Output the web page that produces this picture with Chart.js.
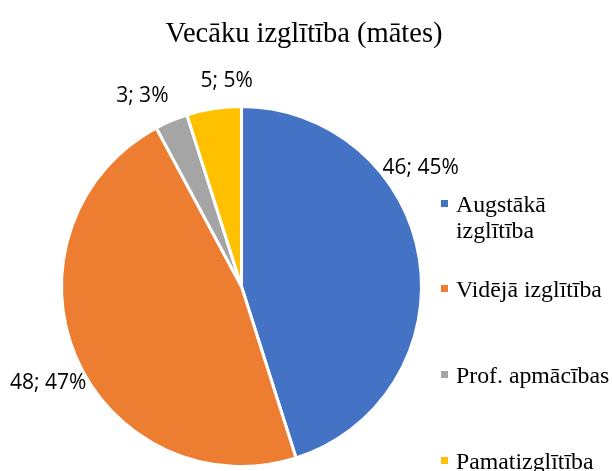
<!DOCTYPE html>
<html>
<head>
<meta charset="utf-8">
<script src="https://cdn.jsdelivr.net/npm/chart.js@4/dist/chart.umd.min.js"></script>
<style>
html,body{margin:0;padding:0;background:#fff;overflow:hidden;}
#wrap{width:612px;height:471px;position:relative;}
</style>
</head>
<body>
<div id="wrap"><canvas id="c" width="612" height="471"></canvas></div>
<script>
const titleText = "Vecāku izglītība (mātes)";
const categories = ["Augstākā izglītība", "Vidējā izglītība", "Prof. apmācības", "Pamatizglītība"];
const legendLines = [["Augstākā", "izglītība"], ["Vidējā izglītība"], ["Prof. apmācības"], ["Pamatizglītība"]];
const values = [46, 48, 3, 5];
const colors = ["#4472C4", "#ED7D31", "#A5A5A5", "#FFC000"];

const total = values.reduce((a, b) => a + b, 0);

const overlay = {
  id: 'overlay',
  afterDraw(chart) {
    const ctx = chart.ctx;
    ctx.save();
    // title
    ctx.fillStyle = '#000';
    ctx.font = '28.5px "Liberation Serif", "Times New Roman", serif';
    ctx.textAlign = 'center';
    ctx.textBaseline = 'alphabetic';
    ctx.fillText(titleText, 304, 42);

    // data labels
    const meta = chart.getDatasetMeta(0);
    const shifts = [-24.7, -3.6, -4.6, 4.7];
    const dists = [35, 36, 34.5, 25.6];
    ctx.font = '21px "Open Sans", "Liberation Sans", sans-serif';
    ctx.textAlign = 'center';
    ctx.textBaseline = 'middle';
    meta.data.forEach((arc, i) => {
      const p = arc.getProps(['x', 'y', 'startAngle', 'endAngle', 'outerRadius'], true);
      const a = (p.startAngle + p.endAngle) / 2 + shifts[i] * Math.PI / 180;
      const r = p.outerRadius + dists[i];
      const x = p.x + Math.cos(a) * r;
      const y = p.y + Math.sin(a) * r;
      const v = values[i];
      ctx.fillText(v + '; ' + Math.round(v / total * 100) + '%', x, y);
    });

    // legend
    ctx.font = '23.8px "Liberation Serif", "Times New Roman", serif';
    ctx.textAlign = 'left';
    ctx.textBaseline = 'alphabetic';
    const baselines = [212, 297, 383, 469];
    legendLines.forEach((lines, i) => {
      ctx.fillStyle = colors[i];
      ctx.fillRect(441, baselines[i] - 12, 7, 7);
      ctx.fillStyle = '#000';
      lines.forEach((ln, j) => ctx.fillText(ln, 456, baselines[i] + j * 26));
    });
    ctx.restore();
  }
};

new Chart(document.getElementById('c'), {
  type: 'pie',
  data: {
    labels: categories,
    datasets: [{
      data: values,
      backgroundColor: colors,
      borderColor: '#ffffff',
      borderWidth: 3
    }]
  },
  options: {
    responsive: false,
    animation: false,
    layout: { padding: { left: 60, right: 189, top: 105, bottom: 3 } },
    plugins: {
      legend: { display: false },
      title: { display: false },
      tooltip: { enabled: false }
    }
  },
  plugins: [overlay]
});
</script>
</body>
</html>
